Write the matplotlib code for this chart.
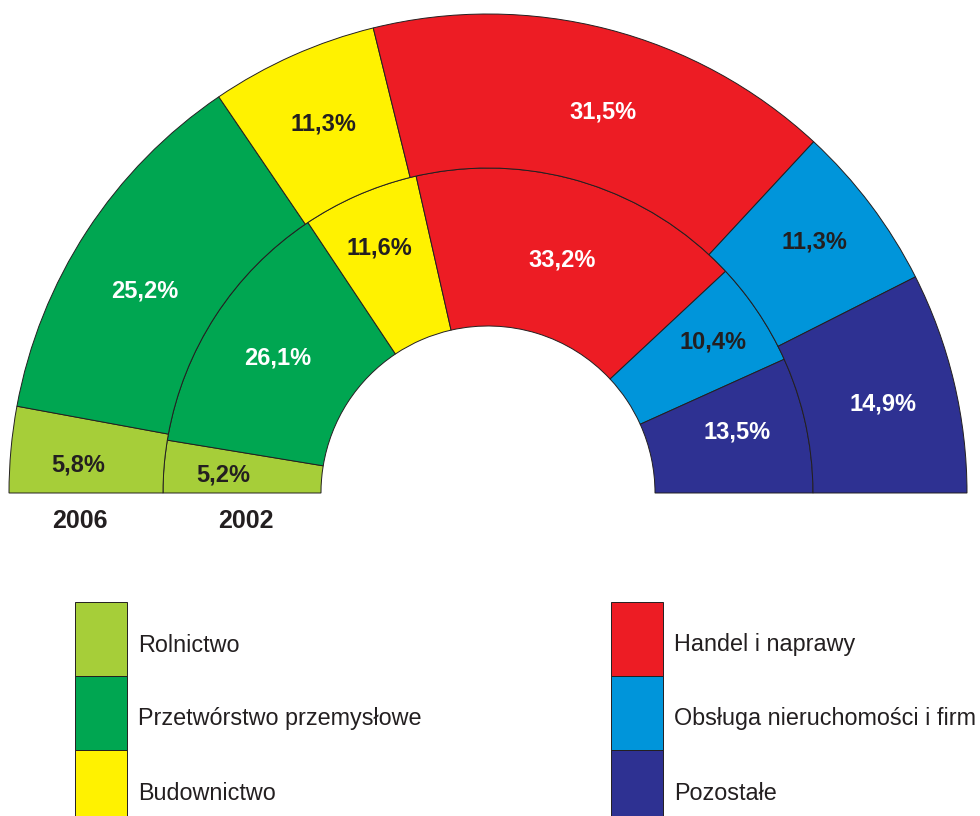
import matplotlib
matplotlib.use("Agg")
import numpy as np
import matplotlib.pyplot as plt
from matplotlib.patches import Wedge, Rectangle

INK = "#231f20"

categories = [
    "Rolnictwo",
    "Przetwórstwo przemysłowe",
    "Budownictwo",
    "Handel i naprawy",
    "Obsługa nieruchomości i firm",
    "Pozostałe",
]
colors = ["#a6ce39", "#00a651", "#fff200", "#ed1c24", "#0095da", "#2e3192"]
values_2002 = [5.2, 26.1, 11.6, 33.2, 10.4, 13.5]
values_2006 = [5.8, 25.2, 11.3, 31.5, 11.3, 14.9]
label_colors = [INK, "white", INK, "white", INK, "white"]
years = ["2002", "2006"]

# hand placement of the percentage labels (radius in px, angle nudge in deg)
label_r_2002 = [265, 250, 268, 244, 271, 256]
label_da_2002 = [-0.8, -0.3, -0.6, 0.5, -0.2, -1.6]
label_r_2006 = [411, 398, 404, 398, 412, 405]
label_da_2006 = [-1.3, -2.7, 0.0, 2.3, -0.5, 0.7]

plt.rcParams["font.family"] = ["Liberation Sans", "DejaVu Sans"]

fig = plt.figure(figsize=(9.8, 8.16), dpi=100)
ax = fig.add_axes([0, 0, 1, 1])
ax.set_xlim(0, 980)
ax.set_ylim(816, 0)
ax.axis("off")

cx, cy = 488, 493
r_in, r_mid, r_out = 167, 325, 479


def ring(values, r0, r1, label_r, label_da):
    start = 0.0
    for val, col, tcol, rl, da in zip(values, colors, label_colors, label_r, label_da):
        t1 = 180 + start * 1.8
        t2 = 180 + (start + val) * 1.8
        ax.add_patch(Wedge((cx, cy), r1, t1, t2, width=r1 - r0,
                           facecolor=col, edgecolor=INK, linewidth=0.7))
        mid = np.deg2rad((t1 + t2) / 2 + da)
        ax.text(cx + rl * np.cos(mid), cy + rl * np.sin(mid),
                f"{val:.1f}%".replace(".", ","), color=tcol,
                fontsize=17, fontweight="bold", ha="center", va="center")
        start += val


ring(values_2002, r_in, r_mid, label_r_2002, label_da_2002)
ring(values_2006, r_mid, r_out, label_r_2006, label_da_2006)

# year labels under the left end of each ring
for year, rx in zip(years, [242, 408]):
    ax.text(cx - rx, 521, year, color=INK, fontsize=18,
            fontweight="bold", ha="center", va="center")

# legend
box_w, box_h = 52, 74
for i, (cat, col) in enumerate(zip(categories, colors)):
    col_x = 75 if i < 3 else 611
    y0 = 602 + (i % 3) * box_h
    ax.add_patch(Rectangle((col_x, y0), box_w, box_h, facecolor=col,
                           edgecolor=INK, linewidth=0.7))
    ax.text(col_x + box_w + 11, y0 + 43, cat, color=INK, fontsize=16.8,
            ha="left", va="center")

fig.savefig("out.png", dpi=100)
